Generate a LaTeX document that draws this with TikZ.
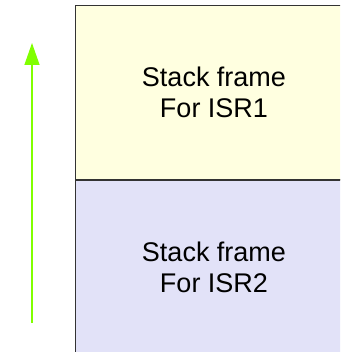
\documentclass[tikz,border=0pt]{standalone}
\usepackage{fontspec}
\setmainfont{Liberation Sans}
\usetikzlibrary{arrows.meta}
\definecolor{topfill}{HTML}{FFFFE0}
\definecolor{botfill}{HTML}{E2E2F8}
\definecolor{edge}{HTML}{333333}
\definecolor{arrowgreen}{HTML}{80FF00}
\tikzset{
  frame/.style={draw=edge, line width=1.4pt, minimum width=277pt, inner sep=0pt,
    align=center, font=\fontsize{27pt}{31pt}\selectfont},
  uparrow/.style={draw=arrowgreen, line width=1.3pt, -{Triangle[length=22pt,width=15pt]}}
}
\begin{document}
\begin{tikzpicture}[x=1pt,y=1pt]
\useasboundingbox (0,0) rectangle (340,352);
\clip (0,0) rectangle (340,352);
\node[frame, fill=topfill, minimum height=174.5pt] (isr1) at (214,259.5) {Stack frame\\For ISR1};
\node[frame, fill=botfill, minimum height=175pt] (isr2) at (214,84.5) {Stack frame\\For ISR2};
\coordinate (lo) at (32,29);
\coordinate (hi) at (32,309);
\draw[uparrow] (lo) -- (hi);
\end{tikzpicture}
\end{document}
